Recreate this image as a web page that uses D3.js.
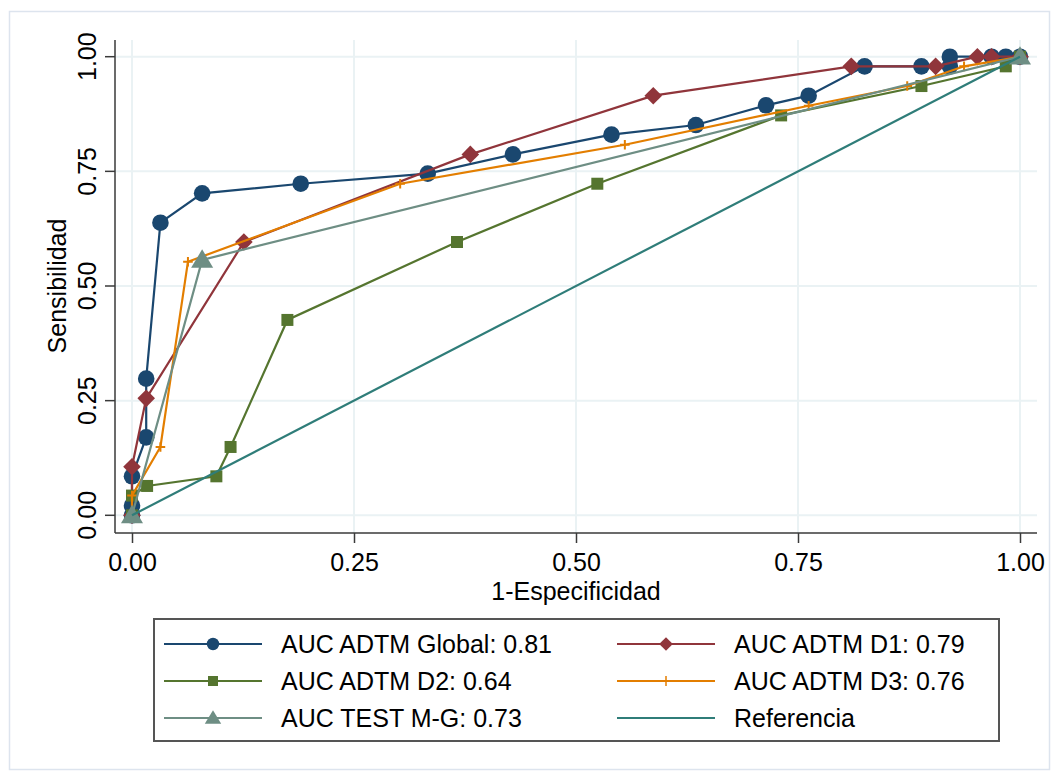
<!DOCTYPE html>
<html lang="es">
<head>
<meta charset="UTF-8">
<title>Curvas ROC</title>
<script src="https://cdn.jsdelivr.net/npm/d3@7"></script>
<style>
  body { margin: 0; background: #fff; }
  text { font-family: "Liberation Sans", Arial, sans-serif; fill: #000; }
</style>
</head>
<body>
<script>
// ---- data (1-especificidad, sensibilidad) ----
var globalX = [0, 0, 0, 0.016, 0.016, 0.032, 0.079, 0.190, 0.333, 0.429, 0.540, 0.635, 0.714, 0.762, 0.825, 0.889, 0.921, 0.921, 0.968, 0.984, 1]
var globalY = [0, 0.021, 0.085, 0.170, 0.298, 0.638, 0.702, 0.723, 0.745, 0.787, 0.830, 0.851, 0.894, 0.915, 0.979, 0.979, 0.979, 1, 1, 1, 1]
var d1X = [0, 0, 0.016, 0.126, 0.381, 0.587, 0.810, 0.905, 0.952, 0.968, 1]
var d1Y = [0, 0.106, 0.255, 0.596, 0.787, 0.915, 0.979, 0.979, 1, 1, 1]
var d2X = [0, 0, 0.017, 0.095, 0.111, 0.175, 0.366, 0.524, 0.731, 0.889, 0.984, 1]
var d2Y = [0, 0.043, 0.064, 0.085, 0.149, 0.426, 0.596, 0.723, 0.872, 0.936, 0.979, 1]
var d3X = [0, 0, 0.032, 0.063, 0.302, 0.555, 0.762, 0.873, 0.937, 1]
var d3Y = [0, 0.043, 0.149, 0.553, 0.723, 0.808, 0.893, 0.936, 0.979, 1]
var testX = [0, 0.079, 1]
var testY = [0, 0.557, 1]
var refX = [0, 1]
var refY = [0, 1]

var seriesNames = ['AUC ADTM Global: 0.81', 'AUC ADTM D1: 0.79', 'AUC ADTM D2: 0.64',
                   'AUC ADTM D3: 0.76', 'AUC TEST M-G: 0.73', 'Referencia']
var xTicks = [0, 0.25, 0.5, 0.75, 1]
var yTicks = [0, 0.25, 0.5, 0.75, 1]

var width = 1057
    height = 774
    fontSize = 25
    plot = { left: 115, right: 1037, top: 40, bottom: 533 }
    colors = ['#1a476f', '#90353b', '#55752f', '#e37e00', '#6e8e84', '#2f7d79']
    shapes = ['circle', 'diamond', 'square', 'plus', 'triangle', 'none']

var series = [
    { x: globalX, y: globalY },
    { x: d1X, y: d1Y },
    { x: d2X, y: d2Y },
    { x: d3X, y: d3Y },
    { x: testX, y: testY },
    { x: refX, y: refY }
].map(function (s, i) {
    return {
        name: seriesNames[i],
        color: colors[i],
        shape: shapes[i],
        points: s.x.map(function (v, j) { return [v, s.y[j]] })
    }
})

var svg = d3.select('body').append('svg')
    .attr('width', width)
    .attr('height', height)

// outer frame
svg.append('rect')
    .attr('x', 9.5).attr('y', 11.5)
    .attr('width', 1040).attr('height', 758)
    .attr('fill', '#fff')
    .attr('stroke', '#dde4ee')
    .attr('stroke-width', 1.5)

var xScale = d3.scaleLinear().domain([0, 1]).range([132, 1020])
var yScale = d3.scaleLinear().domain([0, 1]).range([515.3, 56.7])

// grid
var grid = svg.append('g').attr('stroke', '#eaf2f4').attr('stroke-width', 2)
grid.selectAll('.gx').data(xTicks).enter().append('line')
    .attr('x1', d => xScale(d)).attr('x2', d => xScale(d))
    .attr('y1', plot.top).attr('y2', plot.bottom)
grid.selectAll('.gy').data(yTicks).enter().append('line')
    .attr('y1', d => yScale(d)).attr('y2', d => yScale(d))
    .attr('x1', plot.left).attr('x2', plot.right)

// axes
var xAxis = d3.axisBottom(xScale).tickValues(xTicks).tickFormat(d3.format('.2f'))
    .tickSizeInner(10).tickSizeOuter(0).tickPadding(5)
var yAxis = d3.axisLeft(yScale).tickValues(yTicks).tickFormat(d3.format('.2f'))
    .tickSizeInner(10).tickSizeOuter(0).tickPadding(6)

var gx = svg.append('g').attr('transform', 'translate(0,' + plot.bottom + ')').call(xAxis)
gx.select('.domain').attr('d', 'M' + plot.left + ',0H' + plot.right)
var gy = svg.append('g').attr('transform', 'translate(' + plot.left + ',0)').call(yAxis)
gy.select('.domain').attr('d', 'M0,' + plot.top + 'V' + plot.bottom)

;[gx, gy].forEach(function (g) {
    g.selectAll('.domain, .tick line').attr('stroke', '#3a3a3a').attr('stroke-width', 1.5)
    g.selectAll('.tick text').attr('font-size', fontSize).attr('fill', '#000')
        .style('font-family', '"Liberation Sans", Arial, sans-serif')
})
// y tick labels stand vertical, centred on their tick
gy.selectAll('.tick').attr('transform', 'translate(0,0)')
gy.selectAll('.tick line').attr('y1', yScale).attr('y2', yScale)
gy.selectAll('.tick text')
    .attr('x', -28).attr('y', yScale)
    .attr('dy', '0.35em')
    .style('text-anchor', 'middle')
    .attr('transform', function (d) { return 'rotate(-90,-28,' + yScale(d) + ')' })
gx.selectAll('.tick text').attr('dy', '0.9em')

svg.append('text')
    .attr('x', (xScale(0) + xScale(1)) / 2).attr('y', 600)
    .attr('font-size', fontSize).style('text-anchor', 'middle')
    .text('1-Especificidad')
svg.append('text')
    .attr('transform', 'translate(66,' + ((yScale(0) + yScale(1)) / 2) + ') rotate(-90)')
    .attr('font-size', fontSize).style('text-anchor', 'middle')
    .text('Sensibilidad')

// markers
function markerPath(shape, r) {
    if (shape === 'circle') return d3.symbol(d3.symbolCircle, Math.PI * r * r)()
    if (shape === 'square') return 'M' + (-r) + ',' + (-r) + 'H' + r + 'V' + r + 'H' + (-r) + 'Z'
    if (shape === 'diamond') return 'M0,' + (-r) + 'L' + r + ',0L0,' + r + 'L' + (-r) + ',0Z'
    if (shape === 'triangle') return 'M0,' + (-r) + 'L' + (r * 1.05) + ',' + (r * 0.75) + 'L' + (-r * 1.05) + ',' + (r * 0.75) + 'Z'
    if (shape === 'plus') return 'M' + (-r) + ',0H' + r + 'M0,' + (-r) + 'V' + r
    return ''
}
var markerSize = { circle: 8.3, diamond: 8.8, square: 6, plus: 4.8, triangle: 10.5 }

var line = d3.line().x(d => xScale(d[0])).y(d => yScale(d[1]))

series.forEach(function (s) {
    var g = svg.append('g')
    g.append('path')
        .attr('d', line(s.points))
        .attr('fill', 'none')
        .attr('stroke', s.color)
        .attr('stroke-width', 2.2)
    if (s.shape === 'none') return
    g.selectAll('path.m').data(s.points).enter().append('path')
        .attr('class', 'm')
        .attr('transform', d => 'translate(' + xScale(d[0]) + ',' + yScale(d[1]) + ')')
        .attr('d', markerPath(s.shape, markerSize[s.shape]))
        .attr('fill', s.shape === 'plus' ? 'none' : s.color)
        .attr('stroke', s.shape === 'plus' ? s.color : 'none')
        .attr('stroke-width', 2)
})

// legend
var legend = svg.append('g')
legend.append('rect')
    .attr('x', 154).attr('y', 619)
    .attr('width', 845).attr('height', 122)
    .attr('fill', '#fff')
    .attr('stroke', '#555')
    .attr('stroke-width', 2)

var legendSize = { circle: 6.2, diamond: 6.8, square: 5, plus: 5, triangle: 7.8 }
var items = legend.selectAll('g.item').data(series).enter().append('g')
    .attr('class', 'item')
    .attr('transform', function (d, i) {
        var col = i % 2, row = Math.floor(i / 2)
        return 'translate(' + (col === 0 ? 164 : 617) + ',' + (644 + row * 37) + ')'
    })
items.append('line')
    .attr('x1', 0).attr('x2', 98)
    .attr('stroke', d => d.color).attr('stroke-width', 2.2)
items.append('path')
    .attr('transform', 'translate(49,0)')
    .attr('d', d => markerPath(d.shape, legendSize[d.shape] || 0))
    .attr('fill', d => d.shape === 'plus' ? 'none' : d.color)
    .attr('stroke', d => d.shape === 'plus' ? d.color : 'none')
    .attr('stroke-width', 1.5)
items.append('text')
    .attr('x', 117).attr('dy', '0.36em')
    .attr('font-size', fontSize)
    .text(d => d.name)
</script>
</body>
</html>
